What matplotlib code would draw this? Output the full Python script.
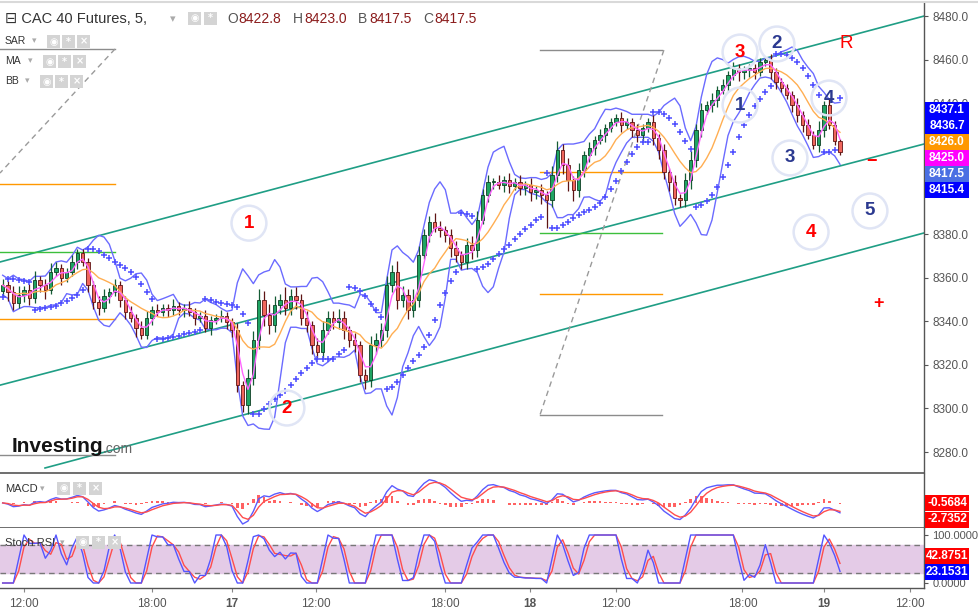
import numpy as np
import pandas as pd
import matplotlib
matplotlib.use("Agg")
import matplotlib.pyplot as plt
from matplotlib.patches import Rectangle

plt.rcParams['font.family'] = ['Liberation Sans', 'DejaVu Sans']

# ---------------- data ----------------
BAR_HOURS = 0.25          # one candle = 15 trading minutes
first_open = 8354.0
close = [
    8356.6, 8353.4, 8348.3, 8352.0, 8354.3, 8350.6, 8358.9, 8356.6, 8354.3, 8362.6,
    8364.4, 8359.8, 8362.6, 8367.2, 8371.3, 8367.2, 8356.6, 8348.8, 8346.1, 8351.6,
    8353.4, 8356.6, 8349.7, 8344.2, 8341.5, 8336.9, 8333.7, 8341.5, 8345.1, 8344.2,
    8346.1, 8345.1, 8347.0, 8345.1, 8346.1, 8344.2, 8341.5, 8342.4, 8336.9, 8340.6,
    8341.5, 8342.4, 8339.6, 8336.0, 8310.7, 8301.6, 8313.9, 8331.4, 8349.7, 8342.8,
    8338.3, 8347.4, 8349.7, 8346.1, 8351.6, 8349.7, 8341.5, 8338.3, 8329.1, 8325.9,
    8336.0, 8341.5, 8339.6, 8341.5, 8336.0, 8331.4, 8329.1, 8315.3, 8313.0, 8329.1,
    8331.4, 8336.0, 8356.6, 8362.6, 8349.7, 8352.0, 8345.1, 8349.7, 8370.4, 8379.5,
    8385.5, 8382.8, 8381.8, 8379.5, 8373.6, 8370.4, 8367.2, 8375.0, 8372.7, 8386.4,
    8397.9, 8403.9, 8403.9, 8402.5, 8404.8, 8402.0, 8403.9, 8401.1, 8402.5, 8399.3,
    8400.2, 8397.9, 8395.6, 8407.1, 8418.5, 8411.7, 8404.8, 8400.2, 8409.4, 8416.2,
    8419.4, 8423.1, 8425.4, 8428.6, 8431.4, 8433.2, 8430.0, 8431.4, 8427.7, 8425.4,
    8428.6, 8431.4, 8424.0, 8418.5, 8408.4, 8403.9, 8396.5, 8395.6, 8404.8, 8413.9,
    8427.7, 8436.9, 8439.2, 8441.5, 8446.1, 8448.3, 8452.9, 8456.1, 8454.3, 8455.2,
    8456.1, 8454.3, 8458.9, 8459.8, 8454.3, 8449.7, 8447.0, 8443.8, 8439.2, 8434.6,
    8430.0, 8425.4, 8420.8, 8427.7, 8439.2, 8430.0, 8422.8, 8417.5,
]
upper_wick = [
    3, 2, 3, 4, 2, 3, 4, 2, 3, 4,
    3, 2, 2, 3, 2, 2, 2, 2, 3, 3,
    2, 3, 2, 2, 3, 2, 3, 3, 2, 3,
    2, 2, 3, 2, 2, 3, 2, 2, 3, 2,
    2, 3, 2, 2, 3, 2, 4, 4, 5, 4,
    5, 4, 3, 6, 3, 4, 3, 3, 2, 3,
    4, 3, 3, 4, 3, 2, 3, 2, 3, 4,
    3, 3, 4, 3, 5, 4, 3, 5, 4, 3,
    3, 4, 3, 2, 3, 3, 2, 3, 4, 4,
    3, 3, 2, 3, 2, 3, 2, 3, 2, 3,
    2, 3, 2, 4, 4, 3, 3, 2, 3, 2,
    3, 2, 3, 2, 2, 2, 3, 2, 2, 3,
    2, 2, 3, 2, 3, 2, 3, 2, 3, 4,
    3, 3, 2, 3, 2, 3, 2, 3, 2, 2,
    2, 2, 2, 1, 3, 2, 2, 2, 2, 3,
    2, 3, 2, 4, 2, 3, 2, 1,
]
lower_wick = [
    3, 4, 3, 2, 3, 3, 2, 3, 4, 2,
    2, 3, 2, 2, 3, 2, 3, 3, 3, 2,
    3, 2, 3, 3, 2, 4, 2, 2, 3, 2,
    2, 3, 2, 2, 3, 2, 3, 2, 2, 3,
    2, 2, 3, 3, 3, 3, 4, 3, 4, 5,
    4, 3, 4, 3, 3, 4, 3, 3, 4, 3,
    3, 2, 3, 3, 4, 3, 3, 3, 4, 3,
    4, 3, 3, 3, 4, 3, 4, 3, 3, 2,
    3, 2, 3, 3, 4, 3, 3, 3, 4, 3,
    2, 3, 3, 2, 3, 3, 2, 3, 3, 4,
    3, 4, 13, 3, 3, 4, 5, 5, 3, 3,
    3, 3, 2, 3, 2, 2, 3, 2, 3, 3,
    3, 2, 3, 4, 3, 4, 3, 3, 3, 4,
    3, 3, 2, 3, 3, 2, 3, 2, 4, 3,
    3, 3, 2, 2, 3, 3, 2, 2, 3, 3,
    3, 2, 2, 3, 3, 2, 2, 1,
]

time_ticks = [1.125, 7.125, 10.875, 14.8, 20.85, 24.85, 28.875, 34.8, 38.625, 42.65]
time_labels = ['12:00', '18:00', '17', '12:00', '18:00', '18', '12:00', '18:00', '19', '12:00']
price_ticks = [8280, 8300, 8320, 8340, 8360, 8380, 8400, 8420, 8440, 8460, 8480]

# trend channel lines: (t0, p0, t1, p1)
channel_lines = [
    (0.0, 8367.2, 43.31, 8480.0),
    (0.0, 8310.7, 43.31, 8421.3),
    (2.11, 8272.7, 43.31, 8380.5),
]
# fibonacci-like tools: x range, levels, diagonal
fib_tools = [
    dict(t0=0.0, t1=5.39, levels=[8464.9, 8402.9, 8371.7, 8341.0, 8278.6],
         diag=(5.39, 8464.9, 0.0, 8408.0)),
    dict(t0=25.31, t1=31.03, levels=[8464.4, 8408.4, 8380.5, 8352.5, 8297.0],
         diag=(31.12, 8464.4, 25.31, 8297.0)),
]
fib_colors = ['#8c8c8c', '#ff9800', '#3cbf3c', '#ff9800', '#8c8c8c']

# wave annotations: (t, price, text, colour, circled)
waves = [
    (11.67, 8385.0, '1', '#ff0000', True),
    (13.45, 8300.2, '2', '#ff0000', True),
    (34.69, 8463.5, '3', '#ff0000', True),
    (36.42, 8467.2, '2', '#2b3990', True),
    (34.69, 8439.2, '1', '#2b3990', True),
    (38.86, 8442.4, '4', '#2b3990', True),
    (37.03, 8414.9, '3', '#2b3990', True),
    (40.78, 8390.6, '5', '#2b3990', True),
    (38.02, 8380.9, '4', '#ff0000', True),
    (39.66, 8467.6, 'R', '#ff0000', False),
    (40.83, 8413.5, '\u2212', '#ff0000', False),
    (41.16, 8348.3, '+', '#ff0000', False),
]

ohlc_header = [('O', '8422.8'), ('H', '8423.0'), ('B', '8417.5'), ('C', '8417.5')]
price_flags = [(8437.1, '8437.1', '#0000ff'), (8436.7, '8436.7', '#0000ff'),
               (8426.0, '8426.0', '#ff9800'), (8425.0, '8425.0', '#ff00ff'),
               (8417.5, '8417.5', '#4a6fe3'), (8415.4, '8415.4', '#0000ff')]
macd_flags = [('-0.5684', '#ff0000'), ('-2.7352', '#ff0000')]
stoch_flags = [(42.8751, '42.8751', '#ff0000'), (23.1531, '23.1531', '#0000ff')]

# ---------------- derived series ----------------
C = np.array(close)
O = np.concatenate([[first_open], C[:-1]])
H = np.maximum(O, C) + np.array(upper_wick)
L = np.minimum(O, C) - np.array(lower_wick)
n = len(C)
t = (np.arange(n) + 0.5) * BAR_HOURS
cs = pd.Series(C)

bb_mid = cs.rolling(7, min_periods=1).mean()
bb_std = cs.rolling(7, min_periods=2).std().bfill()
bb_up = bb_mid + 2 * bb_std
bb_dn = bb_mid - 2 * bb_std
ma_fast = cs.rolling(3, min_periods=1).mean()
ma_slow = cs.rolling(8, min_periods=1).mean()


def psar(hi, lo, af0=0.02, afs=0.02, afmax=0.2):
    s_out = np.zeros(len(hi))
    bull = True
    af = af0
    ep = hi[0]
    s_out[0] = lo[0]
    for i in range(1, len(hi)):
        s = s_out[i - 1] + af * (ep - s_out[i - 1])
        if bull:
            s = min(s, lo[i - 1], lo[max(i - 2, 0)])
            if lo[i] < s:
                bull, s, ep, af = False, ep, lo[i], af0
            elif hi[i] > ep:
                ep, af = hi[i], min(af + afs, afmax)
        else:
            s = max(s, hi[i - 1], hi[max(i - 2, 0)])
            if hi[i] > s:
                bull, s, ep, af = True, ep, hi[i], af0
            elif lo[i] < ep:
                ep, af = lo[i], min(af + afs, afmax)
        s_out[i] = s
    return s_out


sar = psar(H, L)

ema_f = cs.ewm(span=4, adjust=False).mean()
ema_s = cs.ewm(span=9, adjust=False).mean()
macd = ema_f - ema_s
signal = macd.ewm(span=3, adjust=False).mean()
hist = macd - signal

delta = cs.diff().fillna(0)
gain = delta.clip(lower=0).ewm(alpha=1 / 4, adjust=False).mean()
loss = (-delta.clip(upper=0)).ewm(alpha=1 / 4, adjust=False).mean()
rsi = 100 - 100 / (1 + gain / loss.replace(0, 1e-9))
rmin = rsi.rolling(5, min_periods=1).min()
rmax = rsi.rolling(5, min_periods=1).max()
stoch = ((rsi - rmin) / (rmax - rmin).replace(0, 1e-9) * 100).clip(0, 100)
k_line = stoch.rolling(2, min_periods=1).mean()
d_line = k_line.rolling(2, min_periods=1).mean()

# ---------------- figure ----------------
W, HH = 979, 608
fig = plt.figure(figsize=(W / 100, HH / 100), dpi=100)


def fx(x):
    return x / W


def fy(y):
    return 1 - y / HH


AXR = 924
XMAX = AXR / 21.333
ax = fig.add_axes([0, fy(473), fx(AXR), (473 - 3) / HH])
axm = fig.add_axes([0, fy(528), fx(AXR), (528 - 474) / HH])
axs = fig.add_axes([0, fy(588), fx(AXR), (588 - 528) / HH])

for a in (ax, axm, axs):
    a.set_xlim(0, XMAX)
    a.set_facecolor('white')
    for sp in ('left', 'top'):
        a.spines[sp].set_visible(False)
    a.spines['right'].set_color('#555555')
    a.spines['right'].set_linewidth(1.0)
    a.spines['bottom'].set_color('#555555')
    a.spines['bottom'].set_linewidth(1.2)
    a.yaxis.tick_right()
    a.tick_params(axis='y', direction='out', length=3, colors='#555555',
                  labelsize=8.5, pad=3)
ax.set_xticks([])
axm.set_xticks([])
axs.spines['bottom'].set_linewidth(1.0)

# main price panel
ax.set_ylim(8270.4, 8486.0)
ax.set_yticks(price_ticks)
hidden = (8400, 8420)   # covered by the value flags
ax.set_yticklabels(['' if v in hidden else f'{v:.1f}' for v in price_ticks])

for t0, p0, t1, p1 in channel_lines:
    ax.plot([t0, t1], [p0, p1], color='#1f9e85', lw=1.2, zorder=2)

for tool in fib_tools:
    for lev, col in zip(tool['levels'], fib_colors):
        ax.plot([tool['t0'], tool['t1']], [lev, lev], color=col, lw=1.0, zorder=2)
    dx0, dy0, dx1, dy1 = tool['diag']
    ax.plot([dx0, dx1], [dy0, dy1], color='#9a9a9a', lw=1.0, ls=(0, (4, 3)), zorder=2)

ax.plot(t, bb_up, color='#6b6bff', lw=1.0, zorder=2.5)
ax.plot(t, bb_dn, color='#6b6bff', lw=1.0, zorder=2.5)

up = C >= O
body_lo = np.minimum(O, C)
body_h = np.maximum(np.abs(C - O), 0.35)
ax.vlines(t[up], L[up], H[up], color='#155c35', lw=0.9, zorder=3)
ax.vlines(t[~up], L[~up], H[~up], color='#5e1414', lw=0.9, zorder=3)
ax.bar(t[up], body_h[up], bottom=body_lo[up], width=0.16, color='#1fa463',
       edgecolor='#0f3f25', linewidth=0.6, zorder=3.2)
ax.bar(t[~up], body_h[~up], bottom=body_lo[~up], width=0.16, color='#f0665c',
       edgecolor='#5e1414', linewidth=0.6, zorder=3.2)

ax.plot(t, ma_slow, color='#ffae52', lw=1.0, zorder=4)
ax.plot(t, ma_fast, color='#ff66ff', lw=1.0, zorder=4)
ax.plot(t, sar, ls='none', marker='+', ms=3.8, mew=1.1, color='#4d4dff', zorder=5)

for wt, wp, txt, col, circ in waves:
    if circ:
        ax.scatter([wt], [wp], s=630, facecolors='none', edgecolors='#e0e5f5',
                   linewidths=1.8, zorder=6)
    if txt in ('+', '\u2212'):
        ax.text(wt, wp, txt, color=col, fontsize=13, ha='center', va='center',
                fontweight='bold', zorder=7)
    else:
        ax.text(wt, wp, txt, color=col, fontsize=13.5, ha='center', va='center',
                fontweight='bold' if txt != 'R' else 'normal', zorder=7)

# MACD panel
axm.bar(t, hist, width=0.13, color='#ff6262', zorder=2)
axm.plot(t, macd, color='#5b5bff', lw=1.0, zorder=3)
axm.plot(t, signal, color='#ff4d4d', lw=1.0, zorder=3)
lo_m = min(macd.min(), signal.min())
hi_m = max(macd.max(), signal.max())
span = hi_m - lo_m
axm.set_ylim(lo_m - span * 0.09, hi_m + span * 0.13)
axm.set_yticks([])

# Stoch RSI panel
axs.set_ylim(-10.4, 114.6)
axs.axhspan(20, 80, color='#e4cbe7', zorder=1)
axs.axhline(80, color='#777777', lw=1.0, ls=(0, (4, 3)), zorder=2)
axs.axhline(20, color='#777777', lw=1.0, ls=(0, (4, 3)), zorder=2)
axs.plot(t, d_line, color='#ff4d4d', lw=1.0, zorder=3)
axs.plot(t, k_line, color='#5555ff', lw=1.0, zorder=3.5)
axs.set_yticks([0, 100])
axs.set_yticklabels(['0.0000', '100.0000'])
axs.tick_params(axis='y', labelsize=8)
axs.set_xticks(time_ticks)
axs.set_xticklabels(time_labels)
axs.tick_params(axis='x', direction='out', length=3, colors='#888888',
                labelcolor='#555555', labelsize=8.5, pad=4)
for lab in axs.get_xticklabels():
    if lab.get_text() in ('17', '18', '19'):
        lab.set_fontweight('bold')

# ---------------- value flags on the right ----------------
def flag(yc_disp, txt, col, h=16):
    fig.patches.append(Rectangle((fx(925), (yc_disp - h / 2) / HH), fx(44), h / HH,
                                 transform=fig.transFigure, facecolor=col,
                                 edgecolor='none', zorder=5))
    fig.text(fx(947), yc_disp / HH, txt, color='white', fontsize=8.5,
             fontweight='bold', ha='center', va='center', zorder=6)


y0 = ax.transData.transform((0, price_flags[0][0]))[1]
for k, (val, txt, col) in enumerate(price_flags):
    flag(y0 - k * 16, txt, col)

for k, (txt, col) in enumerate(macd_flags):
    flag(HH - (503 + k * 16.5), txt, col)

ylow = axs.transData.transform((0, stoch_flags[1][0]))[1]
yhigh = max(axs.transData.transform((0, stoch_flags[0][0]))[1], ylow + 16)
flag(yhigh, stoch_flags[0][1], stoch_flags[0][2])
flag(ylow, stoch_flags[1][1], stoch_flags[1][2])

# ---------------- header texts and icons ----------------
fig.add_artist(plt.Line2D([0, 1], [fy(2), fy(2)], color='#d9d9d9', lw=1.5,
                          transform=fig.transFigure))


def icon(x, y, sym, w=13, h=13):
    fig.patches.append(Rectangle((fx(x), fy(y + h)), w / W, h / HH,
                                 transform=fig.transFigure, facecolor='#d4d4d4',
                                 edgecolor='none', zorder=5))
    fig.text(fx(x + w / 2), fy(y + h / 2), sym, color='white', fontsize=7,
             ha='center', va='center', fontweight='bold', zorder=6,
             family=['DejaVu Sans'])


fig.text(fx(5), fy(19), '\u229f CAC 40 Futures, 5,', fontsize=10.5, color='#333333',
         va='center', family=['Liberation Sans', 'DejaVu Sans'])
fig.text(fx(170), fy(19), '\u25be', fontsize=8, color='#aaaaaa', va='center',
         family=['DejaVu Sans'])
icon(188, 12, '\u25c9')
icon(204, 12, '*')
hx = [227, 293, 358, 423]
for (lt, val), xpos in zip(ohlc_header, hx):
    fig.text(fx(xpos), fy(19), lt, fontsize=10, color='#555555', va='center')
    fig.text(fx(xpos + 11), fy(19), val, fontsize=10, color='#8b1c1c', va='center')

for lab, yy, bx in (('SAR', 41, 47), ('MA', 61, 43), ('BB', 81, 40)):
    fig.text(fx(5), fy(yy), lab, fontsize=7.5, color='#333333', va='center')
    fig.text(fx(bx - 15), fy(yy), '\u25be', fontsize=6.5, color='#aaaaaa',
             va='center', family=['DejaVu Sans'])
    icon(bx, yy - 6, '\u25c9')
    icon(bx + 15, yy - 6, '*')
    icon(bx + 30, yy - 6, '\u00d7')

fig.text(fx(5), fy(489), 'MACD', fontsize=8, color='#333333', va='center')
fig.text(fx(40), fy(489), '\u25be', fontsize=6.5, color='#aaaaaa', va='center',
         family=['DejaVu Sans'])
icon(57, 482, '\u25c9')
icon(73, 482, '*')
icon(89, 482, '\u00d7')
fig.text(fx(5), fy(543), 'Stoch RSI', fontsize=8, color='#333333', va='center')
fig.text(fx(60), fy(543), '\u25be', fontsize=6.5, color='#aaaaaa', va='center',
         family=['DejaVu Sans'])
icon(76, 536, '\u25c9')
icon(92, 536, '*')
icon(108, 536, '\u00d7')

fig.text(fx(12), fy(446), 'Investing', fontsize=15, fontweight='bold',
         color='#141414', va='center')
fig.text(fx(103), fy(449), '.com', fontsize=10, color='#666666', va='center')

fig.savefig('out.png', dpi=100)
